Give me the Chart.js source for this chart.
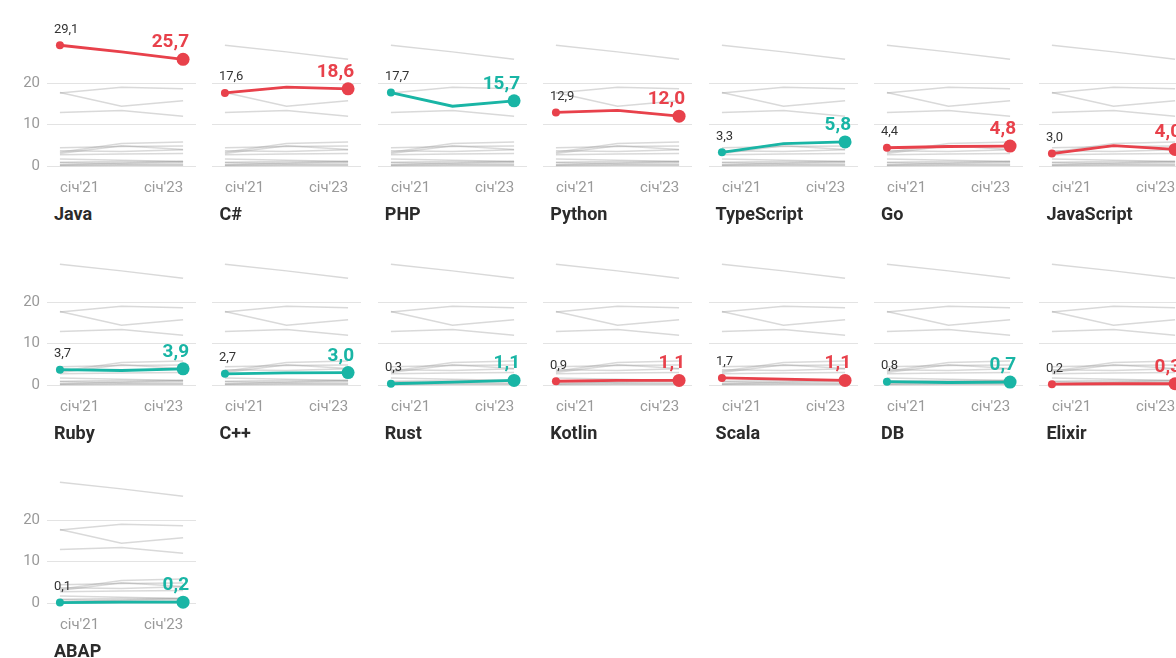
<!DOCTYPE html>
<html>
<head>
<meta charset="utf-8">
<script src="https://cdn.jsdelivr.net/npm/chart.js@4"></script>
<style>
  html, body { margin: 0; padding: 0; background: #fff; overflow: hidden; }
  #wrap { position: relative; width: 1176px; height: 658px; overflow: hidden; font-family: Roboto, sans-serif; }
  .panel { position: absolute; }
  .title { position: absolute; font: bold 18px Roboto, sans-serif; color: #2b2b2b; line-height: 22px; white-space: nowrap; }
</style>
</head>
<body>
<div id="wrap"></div>
<script>
// ---- data ----
const periods = ["січ'21", "січ'22", "січ'23"];
const languages = ["Java", "C#", "PHP", "Python", "TypeScript", "Go", "JavaScript",
                   "Ruby", "C++", "Rust", "Kotlin", "Scala", "DB", "Elixir", "ABAP"];
const share2021 = [29.1, 17.6, 17.7, 12.9, 3.3, 4.4, 3.0, 3.7, 2.7, 0.3, 0.9, 1.7, 0.8, 0.2, 0.1];
const share2022 = [27.5, 19.0, 14.4, 13.4, 5.4, 4.7, 4.9, 3.5, 2.9, 0.7, 1.1, 1.4, 0.6, 0.3, 0.2];
const share2023 = [25.7, 18.6, 15.7, 12.0, 5.8, 4.8, 4.0, 3.9, 3.0, 1.1, 1.1, 1.1, 0.7, 0.3, 0.2];
const highlight = ["red", "red", "teal", "red", "teal", "red", "red",
                   "teal", "teal", "teal", "red", "red", "teal", "red", "teal"];
const yTicks = [0, 10, 20];

// ---- styles ----
const COLORS = { red: '#e8414b', teal: '#19b5a5' };
const GRAY = 'rgba(150,150,150,0.36)';
const COL_STEP = 165.4, ROW_STEP = 218.7;
const fmt = v => v.toFixed(1).replace('.', ',');

const seriesOf = i => [share2021[i], share2022[i], share2023[i]];

const labelPlugin = {
  id: 'valueLabels',
  afterDatasetsDraw(chart) {
    const meta = chart.getDatasetMeta(0);
    const ds = chart.data.datasets[0];
    const p0 = meta.data[0], p2 = meta.data[2];
    const ctx = chart.ctx;
    ctx.save();
    ctx.textBaseline = 'alphabetic';
    ctx.font = '13px Roboto, sans-serif';
    ctx.fillStyle = '#333';
    ctx.textAlign = 'left';
    ctx.fillText(fmt(ds.data[0].y), p0.x - 6, p0.y - 12.5);
    ctx.font = 'bold 19px Roboto, sans-serif';
    ctx.fillStyle = ds.borderColor;
    ctx.textAlign = 'right';
    ctx.fillText(fmt(ds.data[2].y), p2.x + 6, p2.y - 12);
    ctx.restore();
  }
};

const wrap = document.getElementById('wrap');
languages.forEach((lang, i) => {
  const col = i % 7, row = Math.floor(i / 7);
  const left = col * COL_STEP, top = row * ROW_STEP;
  const div = document.createElement('div');
  div.className = 'panel';
  div.style.left = left + 'px';
  div.style.top = top + 'px';
  const cv = document.createElement('canvas');
  cv.width = 196; cv.height = 200;
  cv.style.width = '196px'; cv.style.height = '200px';
  div.appendChild(cv);
  wrap.appendChild(div);

  const t = document.createElement('div');
  t.className = 'title';
  t.textContent = lang;
  t.style.left = (left + 54) + 'px';
  t.style.top = (top + 203) + 'px';
  wrap.appendChild(t);

  const color = COLORS[highlight[i]];
  const datasets = [{
    label: lang,
    data: seriesOf(i).map((v, j) => ({ x: j, y: v })),
    borderColor: color,
    backgroundColor: color,
    borderWidth: 2.8,
    pointRadius: c => c.dataIndex === 0 ? 4 : (c.dataIndex === 2 ? 6.5 : 0),
    pointBorderWidth: 0,
    tension: 0,
    clip: false,
    order: 0
  }];
  languages.forEach((l, k) => datasets.push({
    label: l,
    data: seriesOf(k).map((v, j) => ({ x: j, y: v })),
    borderColor: GRAY,
    borderWidth: 1.5,
    pointRadius: 0,
    tension: 0,
    clip: false,
    order: 1
  }));

  new Chart(cv, {
    type: 'line',
    data: { datasets },
    options: {
      responsive: false,
      animation: false,
      events: [],
      layout: { autoPadding: false, padding: { top: 41.5, left: 0, right: 0, bottom: 0 } },
      plugins: { legend: { display: false }, tooltip: { enabled: false } },
      scales: {
        x: {
          type: 'linear',
          min: -0.21, max: 2.21,
          afterBuildTicks: s => { s.ticks = [{ value: 0 }, { value: 2 }]; },
          afterFit: s => { s.height = 34; s.paddingLeft = 0; s.paddingRight = 0; },
          grid: { display: false, drawTicks: false },
          border: { display: false },
          ticks: {
            align: 'inner',
            padding: 13,
            color: '#999',
            font: { family: 'Roboto', size: 15 },
            maxRotation: 0,
            callback: v => periods[v]
          }
        },
        y: {
          min: 0, max: 30,
          afterBuildTicks: s => { s.ticks = yTicks.map(v => ({ value: v })); },
          afterFit: s => { s.width = 47; s.paddingTop = 0; s.paddingBottom = 0; },
          grid: { color: '#e3e3e3', lineWidth: 1, drawTicks: false },
          border: { display: false },
          ticks: {
            display: col === 0,
            padding: 7,
            color: '#999',
            font: { family: 'Roboto', size: 15 }
          }
        }
      }
    },
    plugins: [labelPlugin]
  });
});
</script>
</body>
</html>
